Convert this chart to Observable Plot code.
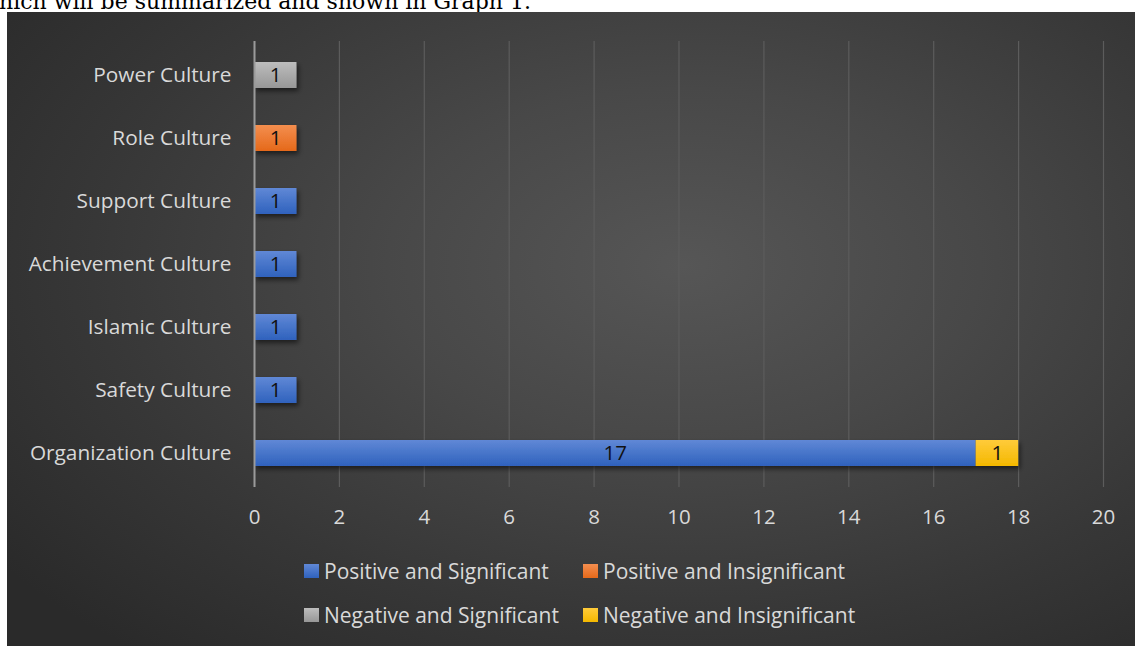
<!DOCTYPE html>
<html>
<head>
<meta charset="utf-8">
<script src="https://cdn.jsdelivr.net/npm/d3@7"></script>
<script src="https://cdn.jsdelivr.net/npm/@observablehq/plot@0.6"></script>
<style>
  html, body { margin: 0; padding: 0; background: #ffffff; width: 1135px; height: 646px; overflow: hidden; }
  #lead { position: absolute; left: -1px; top: -9px; font-family: "DejaVu Serif", serif; font-size: 22px; color: #000; white-space: nowrap; line-height: 22px; }
  #panel { position: absolute; left: 7px; top: 12px; width: 1128px; height: 634px; overflow: hidden;
    background: radial-gradient(ellipse 75% 80% at 60% 40%, #565656 0%, #484848 35%, #373737 70%, #2a2a2a 100%); }
  #chart { position: absolute; left: 0; top: 0; }
  .leg { position: absolute; font-family: "Open Sans", sans-serif; font-size: 21px; color: #d9d9d9; display: flex; align-items: center; white-space: nowrap; }
  .leg .sw { width: 15px; height: 14px; margin-right: 5px; }
</style>
</head>
<body>
<div id="lead">hich will be summarized and shown in Graph 1.</div>
<div id="panel">
  <div id="chart"></div>
  <div id="legend"></div>
</div>
<script>
// ---- data ----
const categories = ["Power Culture", "Role Culture", "Support Culture", "Achievement Culture", "Islamic Culture", "Safety Culture", "Organization Culture"];
const seriesNames = ["Positive and Significant", "Positive and Insignificant", "Negative and Significant", "Negative and Insignificant"];
const positiveSignificant   = [0, 0, 1, 1, 1, 1, 17];
const positiveInsignificant = [0, 1, 0, 0, 0, 0, 0];
const negativeSignificant   = [1, 0, 0, 0, 0, 0, 0];
const negativeInsignificant = [0, 0, 0, 0, 0, 0, 1];
const xTicks = [0, 2, 4, 6, 8, 10, 12, 14, 16, 18, 20];

const seriesValues = [positiveSignificant, positiveInsignificant, negativeSignificant, negativeInsignificant];
const gradIds = ["gBlue", "gOrange", "gGray", "gYellow"];
const gradStops = [["#6088d6", "#2f62bd"], ["#f48e4f", "#e5691a"], ["#bdbdbd", "#979797"], ["#ffcb3a", "#f4b800"]];

const rows = [];
seriesNames.forEach((s, si) => {
  categories.forEach((c, ci) => {
    const v = seriesValues[si][ci];
    if (v > 0) rows.push({category: c, series: s, value: v});
  });
});

const fillScale = {type: "ordinal", domain: seriesNames, range: gradIds.map(id => `url(#${id})`)};
const font = "'Open Sans', sans-serif";

const plot = Plot.plot({
  width: 1128,
  height: 530,
  marginLeft: 247,
  marginRight: 32,
  marginTop: 29,
  marginBottom: 55,
  style: {background: "transparent", fontFamily: font, color: "#d9d9d9", overflow: "visible"},
  x: {domain: [0, 20], ticks: xTicks, label: null},
  y: {domain: categories, paddingInner: 0.59, paddingOuter: 0.3, label: null},
  color: fillScale,
  marks: [
    Plot.gridX(xTicks, {stroke: "#5c5c5c", strokeOpacity: 1, strokeWidth: 1.2}),
    Plot.barX(rows, Plot.stackX({x: "value", y: "category", z: "series", fill: "series", order: seriesNames})),
    Plot.ruleX([0], {stroke: "#9a9a9a", strokeWidth: 2}),
    Plot.text(rows, Plot.stackX({x: "value", y: "category", z: "series", order: seriesNames, text: d => String(d.value), fill: "#111111", fontSize: 20.5})),
    Plot.axisX(xTicks, {tickSize: 0, tickPadding: 22, fontSize: 20.5, fill: "#d9d9d9", label: null}),
    Plot.axisY({tickSize: 0, tickPadding: 23, fontSize: 20.8, fill: "#d9d9d9", label: null})
  ]
});

// gradients and shadow
const ns = "http://www.w3.org/2000/svg";
const defs = document.createElementNS(ns, "defs");
gradIds.forEach((id, i) => {
  const g = document.createElementNS(ns, "linearGradient");
  g.setAttribute("id", id);
  g.setAttribute("x1", "0"); g.setAttribute("y1", "0"); g.setAttribute("x2", "0"); g.setAttribute("y2", "1");
  [[0, gradStops[i][0]], [1, gradStops[i][1]]].forEach(([o, c]) => {
    const st = document.createElementNS(ns, "stop");
    st.setAttribute("offset", o); st.setAttribute("stop-color", c);
    g.appendChild(st);
  });
  defs.appendChild(g);
});
const filt = document.createElementNS(ns, "filter");
filt.setAttribute("id", "shadow");
filt.setAttribute("x", "-10%"); filt.setAttribute("y", "-30%"); filt.setAttribute("width", "130%"); filt.setAttribute("height", "180%");
const ds = document.createElementNS(ns, "feDropShadow");
ds.setAttribute("dx", "2"); ds.setAttribute("dy", "3"); ds.setAttribute("stdDeviation", "2.5");
ds.setAttribute("flood-color", "#000"); ds.setAttribute("flood-opacity", "0.55");
filt.appendChild(ds);
defs.appendChild(filt);
plot.insertBefore(defs, plot.firstChild);
plot.querySelectorAll("g[aria-label='bar']").forEach(g => g.setAttribute("filter", "url(#shadow)"));

document.getElementById("chart").appendChild(plot);

// legend
const legendPos = [[297, 559], [576, 559], [297, 603], [576, 603]];
const legend = document.getElementById("legend");
seriesNames.forEach((s, i) => {
  const d = document.createElement("div");
  d.className = "leg";
  d.style.left = legendPos[i][0] + "px";
  d.style.top = (legendPos[i][1] - 14) + "px";
  d.style.height = "28px";
  const sw = document.createElement("span");
  sw.className = "sw";
  sw.style.background = `linear-gradient(${gradStops[i][0]}, ${gradStops[i][1]})`;
  d.appendChild(sw);
  const t = document.createElement("span");
  t.textContent = s;
  d.appendChild(t);
  legend.appendChild(d);
});
</script>
</body>
</html>
